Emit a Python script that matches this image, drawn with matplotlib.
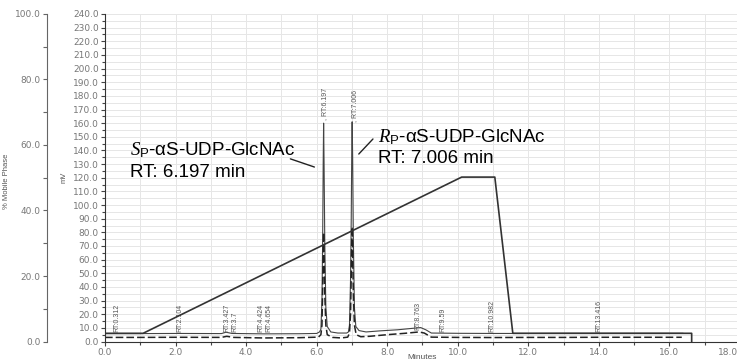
import matplotlib
matplotlib.use('Agg')
import matplotlib.pyplot as plt
import matplotlib.transforms as mtransforms
from matplotlib.ticker import MultipleLocator, FormatStrFormatter

plt.rcParams['font.family'] = ['Liberation Sans', 'DejaVu Sans']
plt.rcParams['mathtext.fontset'] = 'custom'
plt.rcParams['mathtext.rm'] = 'Liberation Sans'
plt.rcParams['mathtext.it'] = 'Liberation Serif:italic'

# channel 1 (solid trace), mV
time_a = [0.0, 1.0, 2.1, 3.3, 3.43, 3.6, 4.5, 5.5, 6.0,
          6.08, 6.12, 6.15, 6.17, 6.185, 6.197, 6.21, 6.23, 6.26, 6.3,
          6.4, 6.6, 6.85, 6.9, 6.93, 6.96, 6.98, 6.995, 7.006, 7.02,
          7.04, 7.07, 7.11, 7.2, 7.4, 7.8, 8.3, 8.7, 8.95, 9.1,
          9.25, 10.0, 11.0, 12.0, 13.0, 14.0, 15.0, 16.38]
mv_a = [5.8, 5.8, 5.9, 5.8, 6.8, 5.9, 5.6, 5.7, 5.9,
        7.0, 9, 30, 75, 130, 160, 130, 72, 25, 11,
        7, 6.2, 6.2, 7, 12, 45, 90, 140, 161, 135,
        75, 25, 11, 8, 7, 7.8, 8.6, 9.6, 10.2, 8.5,
        6.2, 6.0, 5.9, 5.9, 6.0, 6.0, 6.0, 6.0]

# channel 2 (dashed trace), mV
time_b = [0.0, 1.0, 2.1, 3.3, 3.45, 3.65, 4.5, 5.5, 6.05, 6.12,
          6.15, 6.17, 6.185, 6.197, 6.21, 6.23, 6.26, 6.3, 6.45, 6.7,
          6.88, 6.93, 6.96, 6.98, 6.995, 7.006, 7.02, 7.04, 7.07, 7.12,
          7.25, 7.5, 8.0, 8.5, 8.9, 9.05, 9.25, 10.0, 11.0, 12.0,
          13.0, 14.0, 15.0, 16.35]
mv_b = [3.0, 3.0, 3.1, 3.0, 3.8, 3.0, 2.6, 2.8, 3.2, 5,
        12, 38, 66, 80, 66, 35, 12, 5, 3, 2.6,
        3.2, 6, 20, 48, 74, 84, 68, 35, 12, 5,
        3.5, 3.8, 5.0, 6.0, 7.0, 6.2, 3.2, 3.0, 2.9, 3.0,
        3.0, 3.1, 3.1, 3.1]

# gradient (% mobile phase)
grad_time = [0.0, 1.08, 10.11, 11.05, 11.56, 16.63, 16.63]
grad_pct = [2.5, 2.5, 50.2, 50.2, 2.5, 2.5, 0.0]

# peak labels
rt_labels = ['RT:0.312', 'RT:2.104', 'RT:3.427', 'RT:3.7', 'RT:4.424', 'RT:4.654',
             ', RT:6.197', ', RT:7.006', 'RT:8.763', 'RT:9.59', 'RT:10.982', 'RT:13.416']
rt_label_x = [0.33, 2.12, 3.45, 3.68, 4.42, 4.64, 6.23, 7.08, 8.86, 9.58, 10.98, 14.0]
rt_label_y = [7, 7, 7, 7, 7, 7, 162, 161, 8.5, 7, 7, 7]

x_ticks = [0, 2, 4, 6, 8, 10, 12, 14, 16, 18]

fig = plt.figure(figsize=(7.37, 3.62), dpi=100)
ax = fig.add_axes([105 / 737, 20.5 / 362, 635 / 737, 327.5 / 362])

ax.set_xlim(0, 18)
ax.set_ylim(0, 240)
ax.set_xticks(x_ticks, [f'{t:.1f}' for t in x_ticks])
ax.xaxis.set_minor_locator(MultipleLocator(1))
ax.yaxis.set_major_locator(MultipleLocator(10))
ax.yaxis.set_minor_locator(MultipleLocator(5))
ax.yaxis.set_major_formatter(FormatStrFormatter('%.1f'))
ax.grid(which='both', color='#e6e6e6', lw=0.7)
ax.set_axisbelow(True)
for s in ['top', 'right']:
    ax.spines[s].set_visible(False)
ax.spines['left'].set_color('#333333')
ax.spines['bottom'].set_color('#333333')
ax.tick_params(which='both', direction='out', length=3, width=0.8, color='#444444',
               labelcolor='#777777', labelsize=6.5, pad=1.5)
ax.tick_params(which='minor', length=2)

# last x label sits inside the figure
last = ax.get_xticklabels()[-1]
last.set_ha('right')
last.set_transform(last.get_transform() + mtransforms.ScaledTranslation(-2 / 100, 0, fig.dpi_scale_trans))

ax.set_ylabel('mV', fontsize=5.5, color='#555555')
ax.yaxis.set_label_coords(-37 / 635, 0.5)
ax.set_xlabel('Minutes', fontsize=6, color='#555555')
ax.xaxis.set_label_coords(0.5, -12.5 / 327.5)

ax.plot(time_a, mv_a, color='#444444', lw=0.8)
ax.plot(time_b, mv_b, color='#222222', lw=1.1, ls=(0, (5, 2)))

for lab, lx, ly in zip(rt_labels, rt_label_x, rt_label_y):
    ax.text(lx, ly, lab, rotation=90, ha='center', va='bottom', fontsize=5, color='#555555')

# compound names
ax.text(0.71, 136.7, r'$\mathit{S}_{\mathrm{P}}$-αS-UDP-GlcNAc', fontsize=13.5, va='baseline')
ax.text(0.71, 120.5, 'RT: 6.197 min', fontsize=13.5, va='baseline')
ax.annotate('', xy=(6.01, 127.2), xytext=(5.18, 134.5),
            arrowprops=dict(arrowstyle='-', lw=1, color='#222222'))
ax.text(7.73, 146.1, r'$\mathit{R}_{\mathrm{P}}$-αS-UDP-GlcNAc', fontsize=13.5, va='baseline')
ax.text(7.73, 130.8, 'RT: 7.006 min', fontsize=13.5, va='baseline')
ax.annotate('', xy=(7.14, 135.9), xytext=(7.65, 149.9),
            arrowprops=dict(arrowstyle='-', lw=1, color='#222222'))

# % mobile phase axis on the far left
ax2 = ax.twinx()
ax2.set_ylim(0, 100)
for s in ['top', 'right', 'bottom']:
    ax2.spines[s].set_visible(False)
ax2.spines['left'].set_visible(True)
ax2.spines['left'].set_position(('axes', -58 / 635))
ax2.spines['left'].set_color('#666666')
ax2.yaxis.tick_left()
ax2.yaxis.set_label_position('left')
ax2.yaxis.set_major_locator(MultipleLocator(20))
ax2.yaxis.set_minor_locator(MultipleLocator(10))
ax2.yaxis.set_major_formatter(FormatStrFormatter('%.1f'))
ax2.tick_params(which='both', direction='out', length=3, width=0.8, color='#666666',
                labelcolor='#777777', labelsize=6.5, pad=1.5)
ax2.set_ylabel('% Mobile Phase', fontsize=5.5, color='#555555')
ax2.yaxis.set_label_coords(-95 / 635, 0.49)
ax2.plot(grad_time, grad_pct, color='#333333', lw=1.2)

for lab in ax.get_xticklabels() + ax.get_yticklabels() + ax2.get_yticklabels():
    lab.set_fontfamily('DejaVu Sans')

fig.savefig('out.png', dpi=100)
